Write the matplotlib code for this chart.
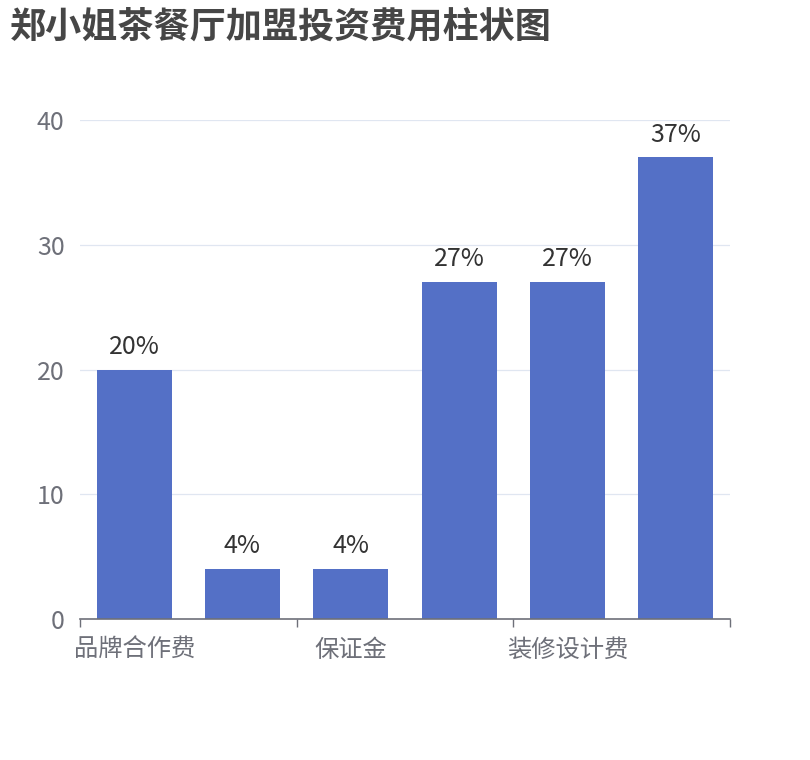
import matplotlib
matplotlib.use("Agg")
import matplotlib.pyplot as plt

plt.rcParams['font.family'] = ['Noto Sans CJK SC', 'DejaVu Sans']

title = "郑小姐茶餐厅加盟投资费用柱状图"
categories = ["品牌合作费", "加盟费", "保证金", "设备费", "装修设计费", "首批进货费"]
values = [20, 4, 4, 27, 27, 37]
labels = ["20%", "4%", "4%", "27%", "27%", "37%"]
y_ticks = [0, 10, 20, 30, 40]
label_interval = 2

W, H = 810, 760
fig = plt.figure(figsize=(W / 100, H / 100), dpi=100)
ax = fig.add_axes([80 / W, (H - 619) / H, 650 / W, (619 - 120) / H])

x = list(range(len(categories)))
bars = ax.bar(x, values, width=0.69, color="#5470c6", zorder=3)
for xi, v, lab in zip(x, values, labels):
    ax.annotate(lab, (xi, v), xytext=(0, 7), textcoords="offset points",
                ha="center", va="bottom", fontsize=18, color="#333333", zorder=4)

ax.set_xlim(-0.5, len(categories) - 0.5)
ax.set_ylim(0, 40)
ax.set_yticks(y_ticks)
ax.set_yticklabels([str(t) for t in y_ticks])
ax.grid(axis="y", color="#e0e6f1", linewidth=0.9, zorder=0)
ax.tick_params(axis="y", length=0, pad=11, labelsize=18, labelcolor="#6e7079")

shown = list(range(0, len(categories), label_interval))
ax.set_xticks(shown)
ax.set_xticklabels([categories[i] for i in shown])
ax.tick_params(axis="x", which="major", length=0, pad=13, labelsize=17.5, labelcolor="#6e7079")
ax.set_xticks([i - 0.5 for i in range(0, len(categories) + 1, label_interval)], minor=True)
ax.tick_params(axis="x", which="minor", length=6, width=1, color="#6e7079")

for s in ["top", "right", "left"]:
    ax.spines[s].set_visible(False)
ax.spines["bottom"].set_color("#6e7079")
ax.spines["bottom"].set_linewidth(1.2)
ax.spines["bottom"].set_zorder(5)

fig.text(10 / W, 1 - 27 / H, title, fontsize=26, fontweight="bold",
         color="#464646", ha="left", va="center")

fig.savefig("out.png", dpi=100)
